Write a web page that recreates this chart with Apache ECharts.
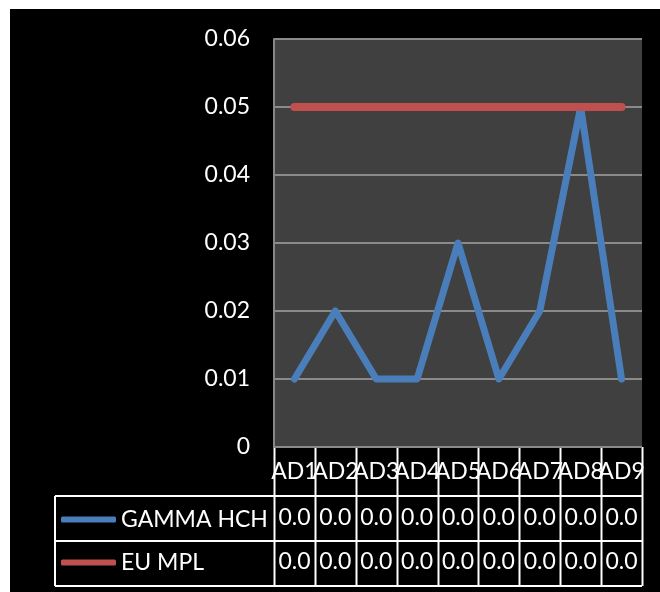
<!DOCTYPE html>
<html>
<head>
<meta charset="utf-8">
<script src="https://cdn.jsdelivr.net/npm/echarts@6/dist/echarts.min.js"></script>
<style>
  html, body { margin: 0; padding: 0; background: #ffffff; }
  #chart { position: absolute; left: 10px; top: 9px; width: 650px; height: 583px; background: #000000; }
</style>
</head>
<body>
<div id="chart"></div>
<script>
// Sampling sites and measured values
const categories = ['AD1', 'AD2', 'AD3', 'AD4', 'AD5', 'AD6', 'AD7', 'AD8', 'AD9'];
const gammaHch = [0.01, 0.02, 0.01, 0.01, 0.03, 0.01, 0.02, 0.05, 0.01];
const euMpl = [0.05, 0.05, 0.05, 0.05, 0.05, 0.05, 0.05, 0.05, 0.05];
const seriesNames = ['GAMMA HCH', 'EU MPL'];
const yTicks = [0, 0.01, 0.02, 0.03, 0.04, 0.05, 0.06];

const FONT = 'Lato, "Open Sans", sans-serif';
const FS = 23;
const BLUE = '#4A7EBB';
const RED = '#C0504D';

// Plot rectangle (chart-local pixels)
const G = { left: 264, top: 30, width: 368, height: 408 };
const tableLeft = 45;
const rowLines = [487, 532, 577];

const chart = echarts.init(document.getElementById('chart'), null, { renderer: 'canvas' });

// Data-table cells use a one-decimal number format that cuts off further digits
function cellText(values) {
  return (v, i) => (Math.floor(values[i] * 10 + 1e-9) / 10).toFixed(1);
}

// Table borders drawn around the category cells and data rows
const tableGraphics = [];
const right = G.left + G.width;
const bottom = G.top + G.height;
const cellW = G.width / categories.length;
for (let i = 0; i <= categories.length; i++) {
  const x = Math.round(G.left + i * cellW) + 0.5;
  tableGraphics.push({ type: 'line', shape: { x1: x, y1: bottom, x2: x, y2: rowLines[2] },
    style: { stroke: '#ffffff', lineWidth: 2 }, silent: true });
}
rowLines.forEach(y => {
  tableGraphics.push({ type: 'line', shape: { x1: tableLeft, y1: y, x2: right, y2: y },
    style: { stroke: '#ffffff', lineWidth: 2 }, silent: true });
});
tableGraphics.push({ type: 'line', shape: { x1: tableLeft, y1: rowLines[0], x2: tableLeft, y2: rowLines[2] },
  style: { stroke: '#ffffff', lineWidth: 2 }, silent: true });
tableGraphics.push({ type: 'line', shape: { x1: G.left, y1: bottom, x2: right, y2: bottom },
  style: { stroke: '#ffffff', lineWidth: 2 }, silent: true });

const rowLabel = { color: '#ffffff', fontFamily: FONT, fontSize: FS, verticalAlign: 'middle' };

chart.setOption({
  backgroundColor: '#000000',
  animation: false,
  grid: {
    left: G.left, top: G.top, width: G.width, height: G.height,
    show: true, backgroundColor: '#404040', borderWidth: 0
  },
  legend: {
    orient: 'vertical',
    left: 46,
    top: 494,
    itemWidth: 55,
    itemHeight: 6,
    itemGap: 20,
    icon: 'roundRect',
    textStyle: { color: '#ffffff', fontFamily: FONT, fontSize: FS },
    data: seriesNames
  },
  xAxis: [
    {
      type: 'category', data: categories, position: 'bottom',
      axisLine: { show: false }, axisTick: { show: false }, splitLine: { show: false },
      axisLabel: Object.assign({ margin: 25, interval: 0 }, rowLabel)
    },
    {
      type: 'category', data: categories, position: 'bottom', offset: 0,
      axisLine: { show: false }, axisTick: { show: false }, splitLine: { show: false },
      axisLabel: Object.assign({ margin: 71, interval: 0, formatter: cellText(gammaHch) }, rowLabel)
    },
    {
      type: 'category', data: categories, position: 'bottom', offset: 0,
      axisLine: { show: false }, axisTick: { show: false }, splitLine: { show: false },
      axisLabel: Object.assign({ margin: 115, interval: 0, formatter: cellText(euMpl) }, rowLabel)
    }
  ],
  yAxis: {
    type: 'value', min: yTicks[0], max: yTicks[yTicks.length - 1], interval: 0.01,
    axisLine: { show: true, lineStyle: { color: '#868686', width: 2 } },
    axisTick: { show: false },
    splitLine: { show: true, lineStyle: { color: '#8a8a8a', width: 2 } },
    axisLabel: {
      color: '#ffffff', fontFamily: FONT, fontSize: FS, margin: 24,
      formatter: v => (v === 0 ? '0' : v.toFixed(2))
    }
  },
  series: [
    {
      name: seriesNames[0], type: 'line', data: gammaHch, symbol: 'none',
      color: BLUE,
      lineStyle: { color: BLUE, width: 7, cap: 'round', join: 'round' }
    },
    {
      name: seriesNames[1], type: 'line', data: euMpl, symbol: 'none',
      color: RED,
      lineStyle: { color: RED, width: 8, cap: 'round', join: 'round' }
    }
  ],
  graphic: tableGraphics
});
</script>
</body>
</html>
